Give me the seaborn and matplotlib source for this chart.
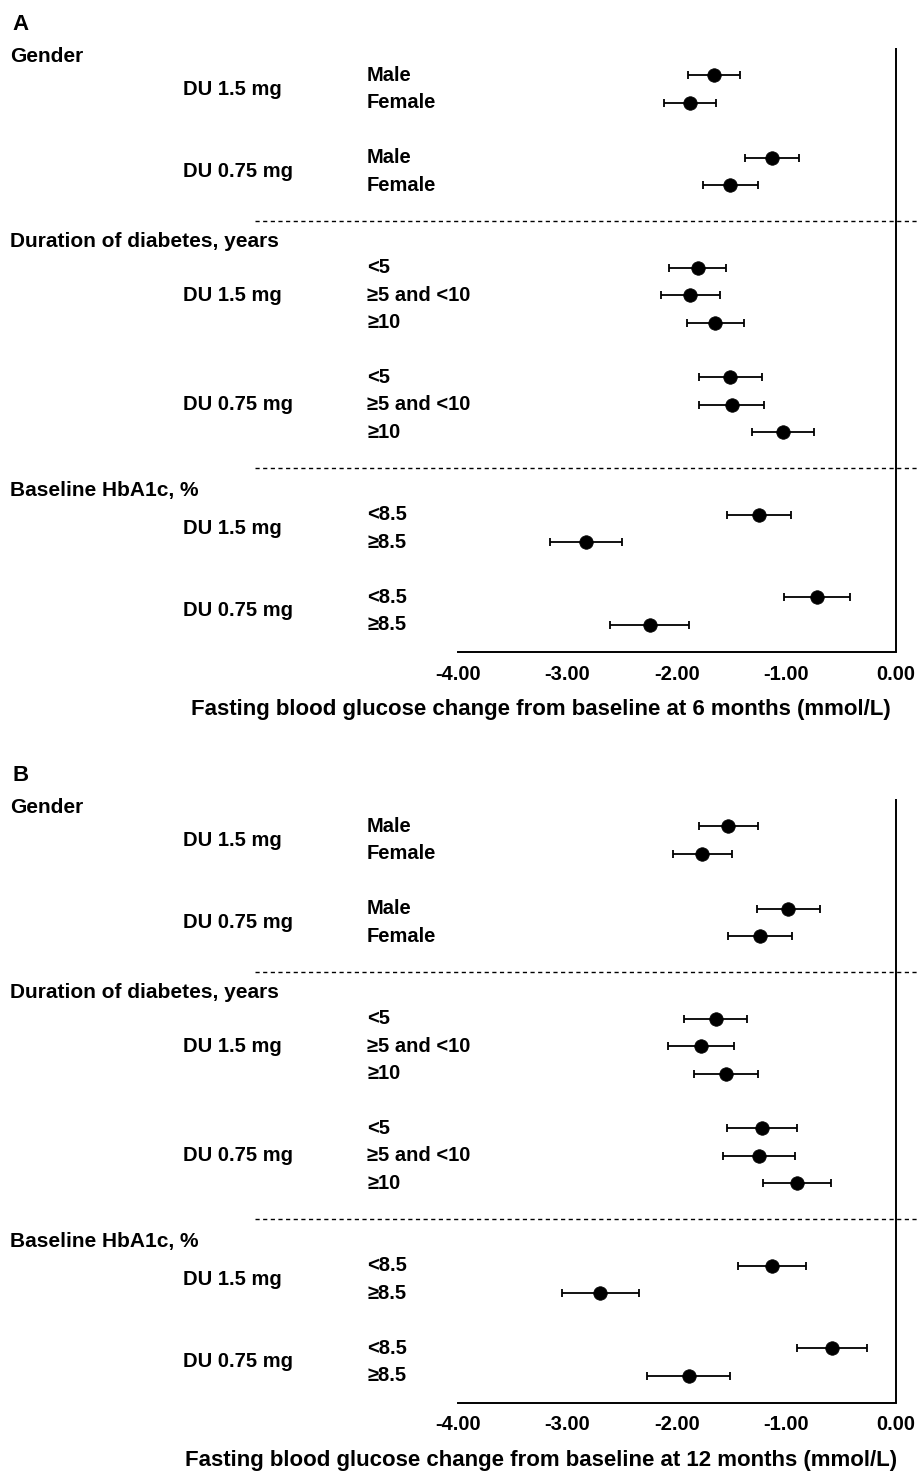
"""
Forest plot: fasting blood glucose change from baseline by subgroup,
dulaglutide (DU) 1.5 mg vs 0.75 mg, at 6 months (A) and 12 months (B).
"""

import numpy as np
import pandas as pd
import matplotlib
matplotlib.use("Agg")
import matplotlib.pyplot as plt
import seaborn as sns


# ---- data ---------------------------------------------------------------
doses = ["DU 1.5 mg", "DU 0.75 mg"]

section_titles = ["Gender", "Duration of diabetes, years", "Baseline HbA1c, %"]
gender_levels = ["Male", "Female"]
duration_levels = ["<5", "\u22655 and <10", "\u226510"]
hba1c_levels = ["<8.5", "\u22658.5"]

# order inside each section: DU 1.5 mg levels, then DU 0.75 mg levels
fbg_6m_gender = [-1.66, -1.88, -1.13, -1.51]
fbg_6m_gender_ci = [0.24, 0.24, 0.25, 0.25]
fbg_6m_duration = [-1.81, -1.88, -1.65, -1.51, -1.50, -1.03]
fbg_6m_duration_ci = [0.26, 0.27, 0.26, 0.29, 0.30, 0.28]
fbg_6m_hba1c = [-1.25, -2.83, -0.72, -2.25]
fbg_6m_hba1c_ci = [0.29, 0.33, 0.30, 0.36]

fbg_12m_gender = [-1.53, -1.77, -0.98, -1.24]
fbg_12m_gender_ci = [0.27, 0.27, 0.29, 0.29]
fbg_12m_duration = [-1.645, -1.78, -1.55, -1.22, -1.25, -0.90]
fbg_12m_duration_ci = [0.29, 0.30, 0.29, 0.32, 0.33, 0.31]
fbg_12m_hba1c = [-1.13, -2.70, -0.58, -1.89]
fbg_12m_hba1c_ci = [0.31, 0.35, 0.32, 0.38]

x_ticks = [-4.0, -3.0, -2.0, -1.0, 0.0]
panel_letters = ["A", "B"]
x_labels = [
    "Fasting blood glucose change from baseline at 6 months (mmol/L)",
    "Fasting blood glucose change from baseline at 12 months (mmol/L)",
]


# ---- layout (pixels of the 918 x 1473 canvas) ----------------------------
W, H = 918, 1473
PX_X0, PX_X4 = 895.5, 458.3          # pixel x of 0.00 and -4.00
UNIT = (PX_X0 - PX_X4) / 4.0
XLIM = (-4 - PX_X4 / UNIT, (W - PX_X0) / UNIT)
HEADER_NUDGE = [0.32, 0.06, 0.1]
FS = 14.5


def build_table(means, cis):
    """Turn the per-section lists into one frame with a row index each."""
    levels = [gender_levels, duration_levels, hba1c_levels]
    records, headers, doselabels, dashes = [], [], [], []
    header_row = -1
    for s, (lev, m, c) in enumerate(zip(levels, means, cis)):
        headers.append((section_titles[s], header_row + HEADER_NUDGE[s]))
        if s > 0:
            dashes.append(header_row - 0.7)
        row = header_row + 1
        k = 0
        for dose in doses:
            first = row
            for name in lev:
                records.append({"row": row, "mean": m[k], "ci": c[k], "label": name})
                row += 1
                k += 1
            doselabels.append((dose, (first + row - 1) / 2))
            row += 1
        header_row = row
    return pd.DataFrame(records), headers, doselabels, dashes


def draw_panel(ax, df, headers, doselabels, dashes, letter, xlabel):
    ax.errorbar(df["mean"], df["row"], xerr=df["ci"], fmt="none",
                ecolor="black", elinewidth=1.3, capsize=3.2, capthick=1.3, zorder=2)
    sns.scatterplot(data=df, x="mean", y="row", color="black", s=95,
                    edgecolor="black", linewidth=0.5, legend=False, ax=ax, zorder=3)

    ax.set_xlim(*XLIM)
    ax.set_ylim(21, -1)
    ax.axvline(0, color="black", lw=1.4)

    for side in ["left", "top", "right"]:
        ax.spines[side].set_visible(False)
    ax.spines["bottom"].set_bounds(-4, 0)
    ax.spines["bottom"].set_linewidth(1.4)
    ax.spines["bottom"].set_color("black")
    ax.set_yticks([])
    ax.set_ylabel("")
    ax.set_xticks(x_ticks)
    ax.set_xticklabels([f"{v:.2f}" for v in x_ticks], fontsize=14.5, fontweight="bold")
    ax.tick_params(axis="x", direction="out", length=5, width=1.4, pad=4,
                   color="black", labelcolor="black")
    ax.set_xlabel(xlabel, fontsize=16, fontweight="bold", color="black")
    ax.xaxis.set_label_coords(541 / W, -0.078)

    tr = ax.get_yaxis_transform()
    for title, y in headers:
        ax.text(10 / W, y, title, transform=tr, fontsize=FS + 0.5, fontweight="bold",
                va="center", ha="left")
    for dose, y in doselabels:
        ax.text(183 / W, y, dose, transform=tr, fontsize=FS, fontweight="bold",
                va="center", ha="left")
    for _, r in df.iterrows():
        ax.text(367 / W, r["row"], r["label"], transform=tr, fontsize=FS,
                fontweight="bold", va="center", ha="left")
    for y in dashes:
        ax.plot([255 / W, 1.0], [y, y], transform=tr, color="black", lw=1.0,
                dashes=(3, 2.5), clip_on=False)

    ax.text(12 / W, -1.85, letter, transform=tr, fontsize=16, fontweight="bold",
            va="center", ha="left")


def main():
    sns.set_style("white")
    plt.rcParams["font.family"] = ["Liberation Sans", "DejaVu Sans"]
    plt.rcParams["text.color"] = "black"
    plt.rcParams["axes.labelcolor"] = "black"

    fig = plt.figure(figsize=(W / 100, H / 100), dpi=100)
    panels = [
        ([fbg_6m_gender, fbg_6m_duration, fbg_6m_hba1c],
         [fbg_6m_gender_ci, fbg_6m_duration_ci, fbg_6m_hba1c_ci], 48),
        ([fbg_12m_gender, fbg_12m_duration, fbg_12m_hba1c],
         [fbg_12m_gender_ci, fbg_12m_duration_ci, fbg_12m_hba1c_ci], 799),
    ]
    height_px = 604
    for i, (means, cis, top_px) in enumerate(panels):
        ax = fig.add_axes([0, 1 - (top_px + height_px) / H, 1, height_px / H])
        ax.patch.set_alpha(0)
        df, headers, doselabels, dashes = build_table(means, cis)
        draw_panel(ax, df, headers, doselabels, dashes, panel_letters[i], x_labels[i])

    fig.savefig("out.png", dpi=100)


if __name__ == "__main__":
    main()
